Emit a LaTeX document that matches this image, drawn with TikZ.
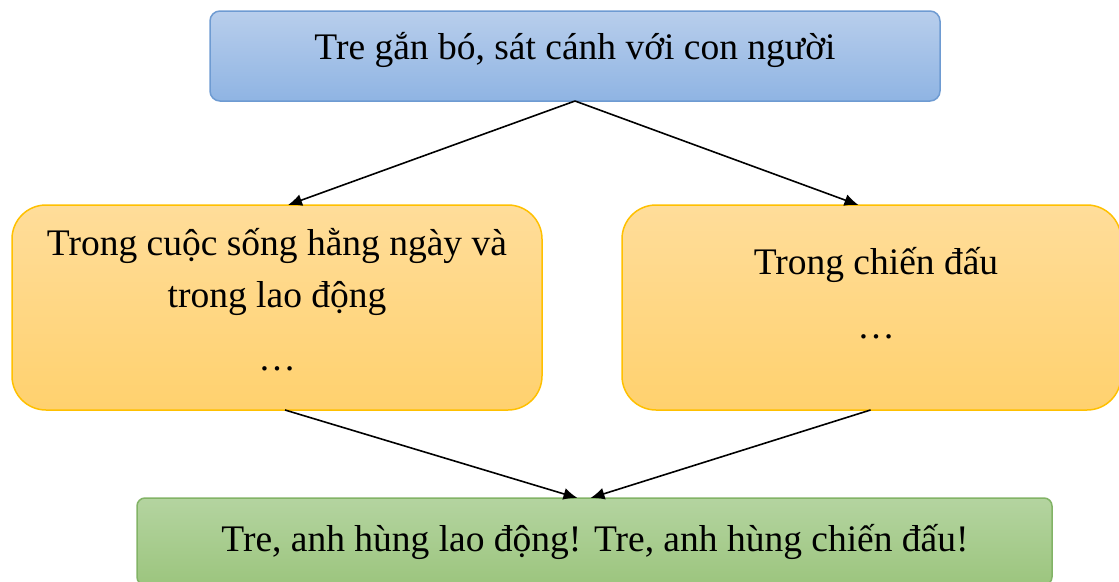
\documentclass[tikz,border=0pt]{standalone}
\usepackage{fontspec}
\setmainfont{Liberation Serif}
\usetikzlibrary{calc,arrows.meta}
\begin{document}
\begin{tikzpicture}[x=1pt,y=1pt,
  box/.style={draw, line width=1.5pt, inner sep=0pt, outer sep=0pt},
  bluebox/.style={box, rounded corners=10pt, draw={rgb,255:red,110;green,155;blue,210}, top color={rgb,255:red,184;green,206;blue,236}, bottom color={rgb,255:red,143;green,180;blue,227}},
  orangebox/.style={box, rounded corners=34pt, draw={rgb,255:red,255;green,192;blue,0}, top color={rgb,255:red,255;green,221;blue,154}, bottom color={rgb,255:red,255;green,209;blue,110}},
  greenbox/.style={box, rounded corners=8pt, draw={rgb,255:red,130;green,179;blue,102}, top color={rgb,255:red,180;green,212;blue,160}, bottom color={rgb,255:red,156;green,197;blue,126}},
  txt/.style={font=\fontsize{37.5}{52}\selectfont, align=center, inner sep=0pt},
  arr/.style={-{Latex[length=14pt,width=12pt]}, line width=1.6pt, black}
]
\useasboundingbox (0,0) rectangle (1119,-581);
\clip (0,0) rectangle (1119,-581);
\node[bluebox, minimum width=730, minimum height=90] (top) at (575,-56) {};
\node[orangebox, minimum width=530, minimum height=205] (left) at (277,-307.5) {};
\node[orangebox, minimum width=499, minimum height=205] (right) at (871.5,-307.5) {};
\node[greenbox, minimum width=915, minimum height=87] (bottom) at (594.5,-541.5) {};
\node[txt] (toptext) at (575,-50) {Tre gắn bó, sát cánh với con người};
\node[txt] (lefttext) at (277,-272) {Trong cuộc sống hằng ngày và\\trong lao động};
\node[txt] (leftdots) at (277,-369) {…};
\node[txt] (righttext) at (876,-265) {Trong chiến đấu};
\node[txt] (rightdots) at (876,-337) {…};
\node[txt] (bottomtext) at (595,-542) {Tre, anh hùng lao động! Tre, anh hùng chiến đấu!};
\coordinate (lin) at ($(left.north)+(11,0)$);
\coordinate (rin) at ($(right.north)+(-13,0)$);
\coordinate (lout) at ($(left.south)+(8,0)$);
\coordinate (rout) at ($(right.south)+(-1,0)$);
\coordinate (bin1) at ($(bottom.north)+(-17,0)$);
\coordinate (bin2) at ($(bottom.north)+(-4,0)$);
\draw[arr] (top.south) -- (lin);
\draw[arr] (top.south) -- (rin);
\draw[arr] (lout) -- (bin1);
\draw[arr] (rout) -- (bin2);
\end{tikzpicture}
\end{document}
